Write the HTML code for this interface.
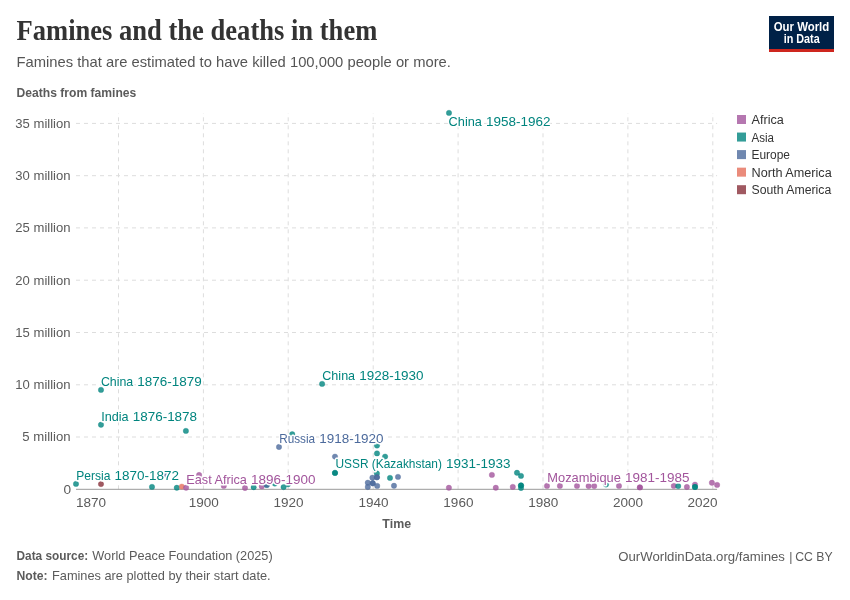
<!DOCTYPE html>
<html lang="en"><head><meta charset="utf-8"><title>Famines and the deaths in them</title>
<style>
html,body{margin:0;padding:0;background:#fff}
body{width:850px;height:600px;overflow:hidden}
svg{display:block}
text{font-family:"Liberation Sans",Arial,sans-serif}
.title{font-family:"Liberation Serif","Times New Roman",serif;font-weight:700;fill:#333}
.tick{font-size:13px;fill:#5b5b5b}
.grid{stroke:#ddd;stroke-width:1;stroke-dasharray:4 4;fill:none}
.lab{font-size:13px}
.halo{stroke:#fff;stroke-width:3;stroke-linejoin:round;paint-order:stroke fill}
.leg{font-size:12.5px;fill:#333}
.foot{font-size:13px;fill:#5b5b5b}
</style></head><body>
<svg width="850" height="600" viewBox="0 0 850 600">
<rect width="850" height="600" fill="#fff"/>
<text class="title" x="16.5" y="40" font-size="29" textLength="360.8" lengthAdjust="spacingAndGlyphs">Famines and the deaths in them</text>
<text x="16.5" y="67" font-size="15" fill="#555" textLength="434.4" lengthAdjust="spacingAndGlyphs">Famines that are estimated to have killed 100,000 people or more.</text>
<g>
<rect x="769" y="16" width="65" height="36" fill="#002147"/>
<rect x="769" y="49" width="65" height="3" fill="#ce261e"/>
<text x="801.5" y="30.7" font-size="12" font-weight="700" fill="#fff" text-anchor="middle" textLength="55.5" lengthAdjust="spacingAndGlyphs">Our World</text>
<text x="801.7" y="42.6" font-size="12" font-weight="700" fill="#fff" text-anchor="middle" textLength="36.1" lengthAdjust="spacingAndGlyphs">in Data</text>
</g>
<text x="16.5" y="97.1" font-size="12" font-weight="700" fill="#5b5b5b" textLength="119.8" lengthAdjust="spacingAndGlyphs">Deaths from famines</text>
<g class="grid">
<path d="M76.0 437.0H717.1"/>
<path d="M76.0 384.8H717.1"/>
<path d="M76.0 332.5H717.1"/>
<path d="M76.0 280.2H717.1"/>
<path d="M76.0 227.9H717.1"/>
<path d="M76.0 175.7H717.1"/>
<path d="M76.0 123.4H717.1"/>
<path d="M118.5 489.3V113.0"/>
<path d="M203.4 489.3V113.0"/>
<path d="M288.2 489.3V113.0"/>
<path d="M373.2 489.3V113.0"/>
<path d="M458.1 489.3V113.0"/>
<path d="M543.0 489.3V113.0"/>
<path d="M627.9 489.3V113.0"/>
<path d="M712.8 489.3V113.0"/>
</g>
<path d="M76.0 489.3H717.1" stroke="#999" stroke-width="1" fill="none"/>
<g class="tick" text-anchor="end">
<text x="71.1" y="493.7" textLength="7.6" lengthAdjust="spacingAndGlyphs">0</text>
<text x="70.6" y="441.4" textLength="48.3" lengthAdjust="spacingAndGlyphs">5 million</text>
<text x="70.6" y="389.2" textLength="55.3" lengthAdjust="spacingAndGlyphs">10 million</text>
<text x="70.6" y="336.9" textLength="55.3" lengthAdjust="spacingAndGlyphs">15 million</text>
<text x="70.6" y="284.6" textLength="55.3" lengthAdjust="spacingAndGlyphs">20 million</text>
<text x="70.6" y="232.3" textLength="55.3" lengthAdjust="spacingAndGlyphs">25 million</text>
<text x="70.6" y="180.1" textLength="55.3" lengthAdjust="spacingAndGlyphs">30 million</text>
<text x="70.6" y="127.8" textLength="55.3" lengthAdjust="spacingAndGlyphs">35 million</text>
</g>
<g class="tick">
<text x="76.0" y="507.4" text-anchor="start" textLength="30.1" lengthAdjust="spacingAndGlyphs">1870</text>
<text x="203.7" y="507.4" text-anchor="middle" textLength="30.1" lengthAdjust="spacingAndGlyphs">1900</text>
<text x="288.6" y="507.4" text-anchor="middle" textLength="30.1" lengthAdjust="spacingAndGlyphs">1920</text>
<text x="373.5" y="507.4" text-anchor="middle" textLength="30.1" lengthAdjust="spacingAndGlyphs">1940</text>
<text x="458.4" y="507.4" text-anchor="middle" textLength="30.1" lengthAdjust="spacingAndGlyphs">1960</text>
<text x="543.2" y="507.4" text-anchor="middle" textLength="30.1" lengthAdjust="spacingAndGlyphs">1980</text>
<text x="628.1" y="507.4" text-anchor="middle" textLength="30.1" lengthAdjust="spacingAndGlyphs">2000</text>
<text x="717.6" y="507.4" text-anchor="end" textLength="30.1" lengthAdjust="spacingAndGlyphs">2020</text>
</g>
<text x="396.7" y="528.4" font-size="12" font-weight="700" fill="#5b5b5b" text-anchor="middle" textLength="28.7" lengthAdjust="spacingAndGlyphs">Time</text>
<g fill-opacity="0.8" stroke-width="0.5" stroke-opacity="0.6">
<circle cx="76.0" cy="483.9" r="2.7" fill="#00847E" stroke="#00847E"/>
<circle cx="101.0" cy="484.1" r="2.7" fill="#883039" stroke="#883039"/>
<circle cx="152.0" cy="486.9" r="2.7" fill="#00847E" stroke="#00847E"/>
<circle cx="165.2" cy="474.5" r="2.7" fill="#4C6A9C" stroke="#4C6A9C"/>
<circle cx="176.8" cy="487.8" r="2.7" fill="#00847E" stroke="#00847E"/>
<circle cx="181.8" cy="486.6" r="2.7" fill="#E56E5A" stroke="#E56E5A"/>
<circle cx="186.1" cy="487.8" r="2.7" fill="#A2559C" stroke="#A2559C"/>
<circle cx="199.1" cy="475.0" r="2.7" fill="#A2559C" stroke="#A2559C"/>
<circle cx="223.8" cy="485.9" r="2.7" fill="#A2559C" stroke="#A2559C"/>
<circle cx="245.0" cy="488.0" r="2.7" fill="#A2559C" stroke="#A2559C"/>
<circle cx="253.7" cy="487.2" r="2.7" fill="#00847E" stroke="#00847E"/>
<circle cx="261.8" cy="486.4" r="2.7" fill="#A2559C" stroke="#A2559C"/>
<circle cx="266.8" cy="484.9" r="2.7" fill="#00847E" stroke="#00847E"/>
<circle cx="266.8" cy="484.9" r="2.7" fill="#4C6A9C" stroke="#4C6A9C"/>
<circle cx="274.9" cy="483.6" r="2.7" fill="#00847E" stroke="#00847E"/>
<circle cx="283.6" cy="487.1" r="2.7" fill="#00847E" stroke="#00847E"/>
<circle cx="288.0" cy="484.3" r="2.7" fill="#00847E" stroke="#00847E"/>
<circle cx="279.0" cy="447.0" r="2.7" fill="#4C6A9C" stroke="#4C6A9C"/>
<circle cx="292.2" cy="434.2" r="2.7" fill="#00847E" stroke="#00847E"/>
<circle cx="335.0" cy="456.6" r="2.7" fill="#4C6A9C" stroke="#4C6A9C"/>
<circle cx="335.0" cy="472.9" r="2.7" fill="#00847E" stroke="#00847E"/>
<circle cx="335.0" cy="472.9" r="2.7" fill="#00847E" stroke="#00847E"/>
<circle cx="377.0" cy="445.6" r="2.7" fill="#00847E" stroke="#00847E"/>
<circle cx="377.0" cy="453.4" r="2.7" fill="#00847E" stroke="#00847E"/>
<circle cx="385.1" cy="456.6" r="2.7" fill="#00847E" stroke="#00847E"/>
<circle cx="376.9" cy="473.5" r="2.7" fill="#00847E" stroke="#00847E"/>
<circle cx="376.9" cy="477.3" r="2.7" fill="#4C6A9C" stroke="#4C6A9C"/>
<circle cx="376.9" cy="477.3" r="2.7" fill="#4C6A9C" stroke="#4C6A9C"/>
<circle cx="372.4" cy="477.7" r="2.7" fill="#4C6A9C" stroke="#4C6A9C"/>
<circle cx="367.8" cy="482.7" r="2.7" fill="#4C6A9C" stroke="#4C6A9C"/>
<circle cx="372.7" cy="483.3" r="2.7" fill="#4C6A9C" stroke="#4C6A9C"/>
<circle cx="372.7" cy="483.3" r="2.7" fill="#4C6A9C" stroke="#4C6A9C"/>
<circle cx="367.8" cy="487.0" r="2.7" fill="#4C6A9C" stroke="#4C6A9C"/>
<circle cx="377.2" cy="485.9" r="2.7" fill="#4C6A9C" stroke="#4C6A9C"/>
<circle cx="390.0" cy="477.9" r="2.7" fill="#00847E" stroke="#00847E"/>
<circle cx="398.0" cy="476.9" r="2.7" fill="#4C6A9C" stroke="#4C6A9C"/>
<circle cx="394.0" cy="485.8" r="2.7" fill="#4C6A9C" stroke="#4C6A9C"/>
<circle cx="449.0" cy="112.9" r="2.7" fill="#00847E" stroke="#00847E"/>
<circle cx="448.9" cy="487.8" r="2.7" fill="#A2559C" stroke="#A2559C"/>
<circle cx="491.9" cy="474.9" r="2.7" fill="#A2559C" stroke="#A2559C"/>
<circle cx="495.8" cy="487.8" r="2.7" fill="#A2559C" stroke="#A2559C"/>
<circle cx="512.8" cy="486.9" r="2.7" fill="#A2559C" stroke="#A2559C"/>
<circle cx="517.0" cy="472.8" r="2.7" fill="#00847E" stroke="#00847E"/>
<circle cx="521.0" cy="475.9" r="2.7" fill="#00847E" stroke="#00847E"/>
<circle cx="521.0" cy="485.5" r="2.7" fill="#00847E" stroke="#00847E"/>
<circle cx="521.0" cy="485.5" r="2.7" fill="#00847E" stroke="#00847E"/>
<circle cx="521.0" cy="488.0" r="2.7" fill="#00847E" stroke="#00847E"/>
<circle cx="547.0" cy="485.9" r="2.7" fill="#A2559C" stroke="#A2559C"/>
<circle cx="559.9" cy="485.9" r="2.7" fill="#A2559C" stroke="#A2559C"/>
<circle cx="577.0" cy="485.9" r="2.7" fill="#A2559C" stroke="#A2559C"/>
<circle cx="588.6" cy="486.1" r="2.7" fill="#A2559C" stroke="#A2559C"/>
<circle cx="594.2" cy="486.1" r="2.7" fill="#A2559C" stroke="#A2559C"/>
<circle cx="606.0" cy="484.5" r="2.7" fill="#00847E" stroke="#00847E"/>
<circle cx="619.0" cy="485.9" r="2.7" fill="#A2559C" stroke="#A2559C"/>
<circle cx="639.9" cy="487.4" r="2.7" fill="#A2559C" stroke="#A2559C"/>
<circle cx="639.9" cy="487.4" r="2.7" fill="#A2559C" stroke="#A2559C"/>
<circle cx="673.8" cy="485.9" r="2.7" fill="#A2559C" stroke="#A2559C"/>
<circle cx="678.2" cy="486.1" r="2.7" fill="#00847E" stroke="#00847E"/>
<circle cx="686.9" cy="487.0" r="2.7" fill="#A2559C" stroke="#A2559C"/>
<circle cx="695.0" cy="484.6" r="2.7" fill="#A2559C" stroke="#A2559C"/>
<circle cx="695.0" cy="487.0" r="2.7" fill="#00847E" stroke="#00847E"/>
<circle cx="695.0" cy="487.0" r="2.7" fill="#00847E" stroke="#00847E"/>
<circle cx="711.9" cy="482.8" r="2.7" fill="#A2559C" stroke="#A2559C"/>
<circle cx="717.1" cy="484.9" r="2.7" fill="#A2559C" stroke="#A2559C"/>
<circle cx="101.0" cy="389.9" r="2.7" fill="#00847E" stroke="#00847E"/>
<circle cx="101.0" cy="424.8" r="2.7" fill="#00847E" stroke="#00847E"/>
<circle cx="185.9" cy="430.9" r="2.7" fill="#00847E" stroke="#00847E"/>
<circle cx="322.1" cy="383.9" r="2.7" fill="#00847E" stroke="#00847E"/>
</g>
<g class="lab">
<text class="halo" y="125.9" fill="#00847E"><tspan x="448.6" textLength="33.3" lengthAdjust="spacingAndGlyphs">China</tspan> <tspan x="486.0" textLength="64.4" lengthAdjust="spacingAndGlyphs">1958-1962</tspan></text>
<text class="halo" y="385.8" fill="#00847E"><tspan x="100.9" textLength="32.3" lengthAdjust="spacingAndGlyphs">China</tspan> <tspan x="137.3" textLength="64.4" lengthAdjust="spacingAndGlyphs">1876-1879</tspan></text>
<text class="halo" y="420.8" fill="#00847E"><tspan x="101.2" textLength="27.4" lengthAdjust="spacingAndGlyphs">India</tspan> <tspan x="132.7" textLength="64.4" lengthAdjust="spacingAndGlyphs">1876-1878</tspan></text>
<text class="halo" y="379.8" fill="#00847E"><tspan x="322.3" textLength="32.8" lengthAdjust="spacingAndGlyphs">China</tspan> <tspan x="359.2" textLength="64.4" lengthAdjust="spacingAndGlyphs">1928-1930</tspan></text>
<text class="halo" y="442.7" fill="#4C6A9C"><tspan x="279.2" textLength="35.9" lengthAdjust="spacingAndGlyphs">Russia</tspan> <tspan x="319.2" textLength="64.4" lengthAdjust="spacingAndGlyphs">1918-1920</tspan></text>
<text class="halo" y="468.4" fill="#00847E"><tspan x="335.5" textLength="106.4" lengthAdjust="spacingAndGlyphs">USSR (Kazakhstan)</tspan> <tspan x="446.0" textLength="64.4" lengthAdjust="spacingAndGlyphs">1931-1933</tspan></text>
<text class="halo" y="480.0" fill="#00847E"><tspan x="76.3" textLength="34.1" lengthAdjust="spacingAndGlyphs">Persia</tspan> <tspan x="114.5" textLength="64.4" lengthAdjust="spacingAndGlyphs">1870-1872</tspan></text>
<text class="halo" y="483.6" fill="#A2559C"><tspan x="186.3" textLength="60.6" lengthAdjust="spacingAndGlyphs">East Africa</tspan> <tspan x="251.0" textLength="64.4" lengthAdjust="spacingAndGlyphs">1896-1900</tspan></text>
<text class="halo" y="482.1" fill="#A2559C"><tspan x="547.3" textLength="73.6" lengthAdjust="spacingAndGlyphs">Mozambique</tspan> <tspan x="625.0" textLength="64.4" lengthAdjust="spacingAndGlyphs">1981-1985</tspan></text>
</g>
<g class="leg">
<rect x="737" y="115.00" width="9" height="9" fill="#A2559C" fill-opacity="0.8"/><text x="751.5" y="124.00" textLength="32.3" lengthAdjust="spacingAndGlyphs">Africa</text>
<rect x="737" y="132.55" width="9" height="9" fill="#00847E" fill-opacity="0.8"/><text x="751.5" y="141.55" textLength="22.5" lengthAdjust="spacingAndGlyphs">Asia</text>
<rect x="737" y="150.10" width="9" height="9" fill="#4C6A9C" fill-opacity="0.8"/><text x="751.5" y="159.10" textLength="38.5" lengthAdjust="spacingAndGlyphs">Europe</text>
<rect x="737" y="167.65" width="9" height="9" fill="#E56E5A" fill-opacity="0.8"/><text x="751.5" y="176.65" textLength="80.2" lengthAdjust="spacingAndGlyphs">North America</text>
<rect x="737" y="185.20" width="9" height="9" fill="#883039" fill-opacity="0.8"/><text x="751.5" y="194.20" textLength="79.7" lengthAdjust="spacingAndGlyphs">South America</text>
</g>
<g class="foot">
<text y="560.3"><tspan x="16.5" font-weight="700" textLength="71.7" lengthAdjust="spacingAndGlyphs">Data source:</tspan> <tspan x="92.3" textLength="180.4" lengthAdjust="spacingAndGlyphs">World Peace Foundation (2025)</tspan></text>
<text y="580.3"><tspan x="16.5" font-weight="700" textLength="31.1" lengthAdjust="spacingAndGlyphs">Note:</tspan> <tspan x="52.0" textLength="218.6" lengthAdjust="spacingAndGlyphs">Famines are plotted by their start date.</tspan></text>
<text y="560.5"><tspan x="618.3" textLength="166.6" lengthAdjust="spacingAndGlyphs">OurWorldinData.org/famines</tspan> <tspan x="789.2" textLength="3.2" lengthAdjust="spacingAndGlyphs">|</tspan> <tspan x="795.2" textLength="37.4" lengthAdjust="spacingAndGlyphs">CC BY</tspan></text>
</g>
</svg>
</body></html>
